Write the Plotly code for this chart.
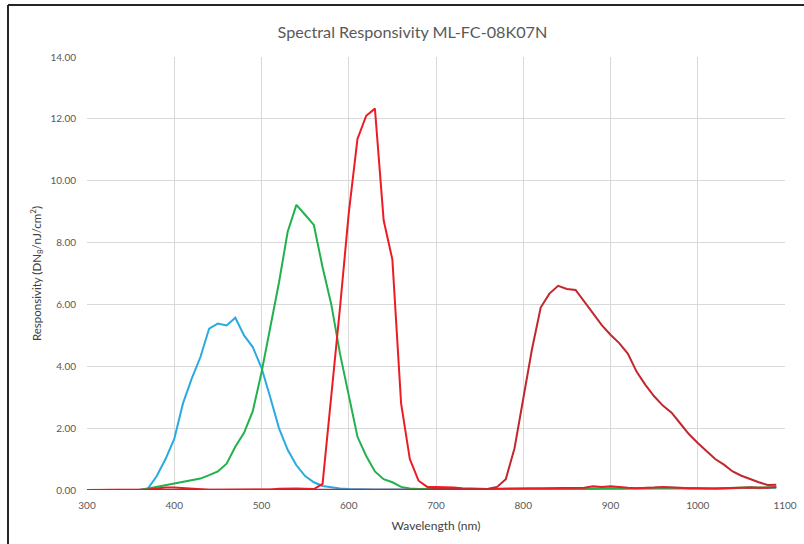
import plotly.graph_objects as go

wavelength = [300, 310, 320, 330, 340, 350, 360, 370, 380, 390,
              400, 410, 420, 430, 440, 450, 460, 470, 480, 490,
              500, 510, 520, 530, 540, 550, 560, 570, 580, 590,
              600, 610, 620, 630, 640, 650, 660, 670, 680, 690,
              700, 710, 720, 730, 740, 750, 760, 770, 780, 790,
              800, 810, 820, 830, 840, 850, 860, 870, 880, 890,
              900, 910, 920, 930, 940, 950, 960, 970, 980, 990,
              1000, 1010, 1020, 1030, 1040, 1050, 1060, 1070, 1080, 1090]

blue = [0, 0, 0, 0, 0, 0, 0,
        0.05, 0.45, 1.0, 1.65, 2.8, 3.6, 4.3, 5.22, 5.38, 5.32, 5.57, 5.0, 4.62,
        3.95, 3.0, 2.0, 1.3, 0.8, 0.45, 0.25, 0.13, 0.08, 0.05, 0.03,
        0.02, 0.02, 0.02, 0.02, 0.02, 0.02, 0.02, 0.02, 0.02, 0.02,
        0.02, 0.02, 0.02, 0.02, 0.02, 0.02, 0.02, 0.02, 0.01, 0.01,
        0.01, 0.01, 0.02, 0.02, 0.02, 0.03, 0.03, 0.03, 0.04, 0.04,
        0.03, 0.03, 0.03, 0.04, 0.04, 0.05, 0.05, 0.04, 0.04, 0.04,
        0.04, 0.04, 0.05, 0.06, 0.07, 0.07, 0.06, 0.06, 0.07]

green = [0, 0, 0, 0, 0, 0, 0,
         0.05, 0.1, 0.15, 0.2, 0.25, 0.3, 0.37, 0.48, 0.6, 0.85, 1.4, 1.85, 2.55,
         3.8, 5.2, 6.7, 8.35, 9.22, 8.9, 8.57, 7.2, 6.0, 4.4, 3.0,
         1.72, 1.1, 0.6, 0.35, 0.25, 0.1, 0.05, 0.03, 0.03, 0.03,
         0.03, 0.03, 0.02, 0.02, 0.02, 0.02, 0.02, 0.02, 0.02, 0.02,
         0.02, 0.02, 0.03, 0.03, 0.04, 0.04, 0.04, 0.05, 0.06, 0.06,
         0.05, 0.05, 0.05, 0.06, 0.07, 0.08, 0.07, 0.06, 0.06, 0.05,
         0.05, 0.05, 0.06, 0.08, 0.09, 0.09, 0.08, 0.08, 0.09]

red = [0, 0, 0, 0, 0, 0, 0,
       0.02, 0.05, 0.08, 0.08, 0.06, 0.03, 0.02, 0.01, 0.01, 0.01, 0.01, 0.01, 0.01,
       0.01, 0.02, 0.04, 0.05, 0.05, 0.04, 0.03, 0.2, 2.95, 5.9, 8.95,
       11.35, 12.1, 12.33, 8.72, 7.45, 2.8, 1.0, 0.3, 0.1, 0.1,
       0.1, 0.08, 0.06, 0.05, 0.03, 0.03, 0.04, 0.05, 0.05, 0.05,
       0.06, 0.06, 0.06, 0.06, 0.06, 0.06, 0.07, 0.12, 0.1, 0.12,
       0.09, 0.07, 0.06, 0.06, 0.08, 0.1, 0.08, 0.07, 0.06, 0.06,
       0.05, 0.05, 0.06, 0.07, 0.07, 0.08, 0.07, 0.07, 0.1]

nir = [0, 0, 0, 0, 0, 0, 0,
       0.01, 0.01, 0.01, 0.01, 0.01, 0.01, 0.01, 0.01, 0.01, 0.01, 0.01, 0.01, 0.01,
       0.01, 0.01, 0.01, 0.01, 0.01, 0.01, 0.01, 0.01, 0.01, 0.01, 0.01,
       0.01, 0.01, 0.01, 0.01, 0.01, 0.01, 0.02, 0.02, 0.02, 0.03,
       0.03, 0.03, 0.03, 0.03, 0.03, 0.04, 0.1, 0.35, 1.35, 2.95,
       4.55, 5.9, 6.35, 6.6, 6.5, 6.47, 6.1, 5.72, 5.33, 5.02,
       4.75, 4.4, 3.82, 3.4, 3.03, 2.73, 2.5, 2.15, 1.8, 1.52,
       1.26, 1.0, 0.82, 0.6, 0.46, 0.35, 0.25, 0.16, 0.17]

series = [
    ("Blue", blue, "#29ABE2"),
    ("Green", green, "#22B14C"),
    ("Red", red, "#ED1C24"),
    ("NIR", nir, "#C1272D"),
]

fig = go.Figure()
for name, vals, col in series:
    fig.add_trace(go.Scatter(x=wavelength, y=vals, mode="lines", name=name,
                             line=dict(color=col, width=2)))

font_family = "Lato, 'Open Sans', sans-serif"
tick_col = "#595959"

W, H = 804, 544
# plot area in pixels; margins are zero so paper == whole figure
plot_l, plot_r, plot_t, plot_b = 87, 785, 57, 490
x_dom = [plot_l / W, plot_r / W]
y_dom = [(H - plot_b) / H, (H - plot_t) / H]
frame_x = 8 / W
frame_y = (H - 5) / H

fig.update_layout(
    width=W, height=H,
    margin=dict(l=0, r=0, t=0, b=0, autoexpand=False),
    paper_bgcolor="white", plot_bgcolor="white",
    showlegend=False,
    font=dict(family=font_family, color=tick_col, size=10),
    title=dict(text="Spectral Responsivity ML-FC-08K07N",
               x=0.513, xanchor="center", y=1 - 32 / H, yanchor="middle",
               yref="container",
               font=dict(family=font_family, size=16.2, color=tick_col)),
    xaxis=dict(domain=x_dom, range=[300, 1100], dtick=100, tick0=300,
               showgrid=True, gridcolor="#D9D9D9", gridwidth=1,
               zeroline=False, showline=False, ticks="",
               ticklabelstandoff=8,
               tickfont=dict(size=10, color=tick_col),
               title=dict(text="Wavelength (nm)", font=dict(size=12, color="#404040"),
                          standoff=11)),
    yaxis=dict(domain=y_dom, range=[0, 14], dtick=2, tickformat=".2f",
               showgrid=True, gridcolor="#D9D9D9", gridwidth=1,
               zeroline=False, showline=False, ticks="",
               ticklabelstandoff=10,
               tickfont=dict(size=10, color=tick_col),
               title=dict(text="Responsivity (DN<sub>8</sub>/nJ/cm<sup>2</sup>)",
                          font=dict(size=11.5, color="#404040"), standoff=6)),
    shapes=[
        dict(type="line", xref="paper", yref="paper",
             x0=frame_x, x1=frame_x, y0=0, y1=frame_y,
             line=dict(color="#262626", width=2), layer="above"),
        dict(type="line", xref="paper", yref="paper",
             x0=frame_x, x1=1, y0=frame_y, y1=frame_y,
             line=dict(color="#262626", width=2), layer="above"),
    ],
)

fig.write_html("out.html", config={"displayModeBar": False},
               post_script="document.body.style.margin='0px';")
